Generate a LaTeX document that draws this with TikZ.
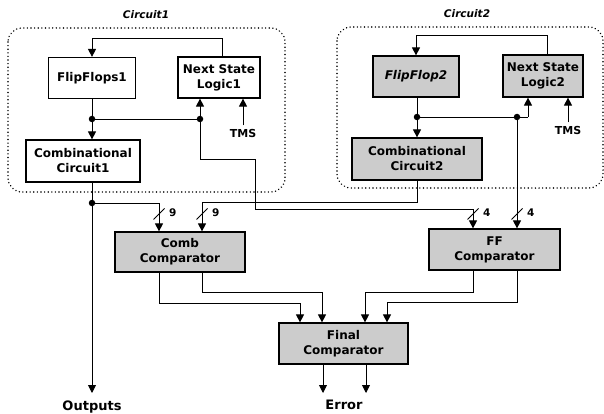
\documentclass[tikz,border=0pt]{standalone}
\usepackage{fontspec}
\setmainfont{DejaVu Sans}
\usetikzlibrary{arrows.meta,calc}

\tikzset{
  blk/.style={draw, line width=1.2pt, fill=white, inner sep=0pt, align=center,
    font=\fontsize{12}{15}\selectfont\bfseries},
  shaded/.style={blk, fill=black!20},
  wire/.style={line width=0.9pt},
  arr/.style={wire, -{Triangle[length=8pt,width=8pt]}},
  dot/.style={circle, fill=black, inner sep=0pt, minimum size=6.5pt},
  grp/.style={line width=1.6pt, dash pattern=on 0.01pt off 3.6pt, line cap=round,
    rounded corners=14pt},
  grptitle/.style={font=\fontsize{10.5}{12}\selectfont\bfseries\itshape},
  lbl/.style={font=\fontsize{11}{13}\selectfont\bfseries},
  biglbl/.style={font=\fontsize{13}{15}\selectfont\bfseries},
  buslbl/.style={font=\fontsize{10.5}{12}\selectfont\bfseries, anchor=west}
}

\begin{document}
\begin{tikzpicture}[x=1pt,y=-1pt]
\useasboundingbox (0,0) rectangle (604,414);

% group outlines
\draw[grp] (8,28) rectangle (285,192);
\draw[grp] (337,27) rectangle (603,188);
\node[grptitle] (t1) at (146,15) {Circuit1};
\node[grptitle] (t2) at (467,14) {Circuit2};

% Circuit1 blocks
\node[blk, minimum width=87pt, minimum height=41pt] (ff1) at (92,78) {FlipFlops1};
\node[blk, minimum width=82pt, minimum height=41pt] (nsl1) at (219,77.5) {Next State\\Logic1};
\node[blk, minimum width=114pt, minimum height=42pt] (comb1) at (83,161) {Combinational\\Circuit1};
\node[lbl] (tms1) at (243,133) {TMS};

% Circuit2 blocks
\node[shaded, minimum width=86pt, minimum height=41pt] (ff2) at (416,76.5) {\itshape FlipFlop2};
\node[shaded, minimum width=80pt, minimum height=42pt] (nsl2) at (543,76) {Next State\\Logic2};
\node[shaded, minimum width=130pt, minimum height=42pt] (comb2) at (417,159) {Combinational\\Circuit2};
\node[lbl] (tms2) at (568,130) {TMS};

% comparators
\node[shaded, minimum width=130pt, minimum height=40pt] (combcmp) at (180,252) {Comb\\Comparator};
\node[shaded, minimum width=131pt, minimum height=41pt] (ffcmp) at (494.5,249.5) {FF\\Comparator};
\node[shaded, minimum width=129pt, minimum height=41pt] (final) at (343.5,343.5) {Final\\Comparator};

\node[biglbl] (outs) at (92,407) {Outputs};
\node[biglbl] (err) at (344,405) {Error};

% junctions and bend points
\coordinate (j1) at (92,119);
\coordinate (j2) at (200,119);
\coordinate (j3) at (417,117);
\coordinate (j4) at (517,117);
\coordinate (j5) at (92,203);
\coordinate (fb1) at (222,38);
\coordinate (fb2) at (547,35);
\coordinate (b1) at (255,159);
\coordinate (b2) at (473,209);
\coordinate (b3) at (528,117);
\coordinate (b4) at (202,202);
\coordinate (b5) at (159,203);
\coordinate (c1) at (159,303);
\coordinate (c2) at (300,303);
\coordinate (c3) at (202,292);
\coordinate (c4) at (322,292);
\coordinate (c5) at (473,292);
\coordinate (c6) at (365,292);
\coordinate (c7) at (517,302);
\coordinate (c8) at (387,302);
\coordinate (e1) at (323,393);
\coordinate (e2) at (366,393);
\coordinate (o1) at (92,393);

% Circuit1 wiring
\draw[wire] (ff1.south) -- (j1);
\draw[arr] (j1) -- (comb1.north -| j1);
\draw[wire] (j1) -- (j2);
\draw[arr] (j2) -- (nsl1.south -| j2);
\draw[arr] (nsl1.north -| fb1) -- (fb1) -| (ff1.north);
\draw[arr] (tms1.north) -- (nsl1.south -| tms1.north);
\draw[arr] (j2) |- (b1) |- (b2) -- (ffcmp.north -| b2);

% Circuit2 wiring
\draw[wire] (ff2.south -| j3) -- (j3);
\draw[arr] (j3) -- (comb2.north -| j3);
\draw[wire] (j3) -- (b3);
\draw[arr] (b3) -- (nsl2.south -| b3);
\draw[arr] (nsl2.north -| fb2) -- (fb2) -| (ff2.north);
\draw[arr] (tms2.north) -- (nsl2.south -| tms2.north);
\draw[arr] (j4) -- (ffcmp.north -| j4);
\draw[arr] (comb2.south) |- (b4) -- (combcmp.north -| b4);

% Combinational outputs
\draw[wire] (comb1.south -| j5) -- (j5);
\draw[arr] (j5) -- (b5) -- (combcmp.north -| b5);
\draw[arr] (j5) -- (o1);

% comparator outputs into the final stage
\draw[arr] (combcmp.south -| c1) -- (c1) -- (c2) -- (final.north -| c2);
\draw[arr] (combcmp.south -| c3) -- (c3) -- (c4) -- (final.north -| c4);
\draw[arr] (ffcmp.south -| c5) -- (c5) -- (c6) -- (final.north -| c6);
\draw[arr] (ffcmp.south -| c7) -- (c7) -- (c8) -- (final.north -| c8);
\draw[arr] (final.south -| e1) -- (e1);
\draw[arr] (final.south -| e2) -- (e2);

% junction dots
\foreach \j in {j1,j2,j3,j4,j5} \node[dot] (d\j) at (\j) {};

% bus width marks
\foreach \x/\n in {159/9,202/9,473/4,517/4} {
  \draw[wire] (\x-5.5,219.5) -- (\x+5.5,208.5);
  \node[buslbl] (w\x) at (\x+6.5,213) {\n};
}
\end{tikzpicture}
\end{document}
